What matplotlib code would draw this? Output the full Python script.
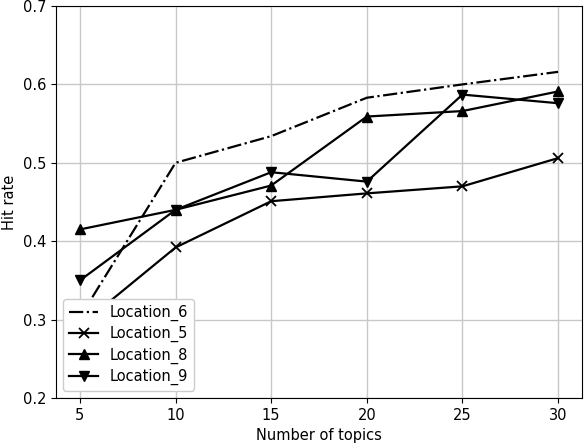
import matplotlib
matplotlib.use('Agg')
import matplotlib.pyplot as plt

# number of topics on the x axis
topics = [5, 10, 15, 20, 25, 30]

# hit rate for each location
location_6 = [0.303, 0.500, 0.534, 0.583, 0.600, 0.616]
location_5 = [0.292, 0.392, 0.451, 0.461, 0.470, 0.506]
location_8 = [0.415, 0.440, 0.471, 0.559, 0.566, 0.591]
location_9 = [0.350, 0.440, 0.488, 0.476, 0.587, 0.576]

plt.rcParams['font.size'] = 10.5

fig = plt.figure(figsize=(5.84, 4.44), dpi=100)
ax = fig.add_axes([56 / 584, 1 - 398 / 444, 526 / 584, 392 / 444])

ax.plot(topics, location_6, 'k-.', lw=1.6, label='Location_6')
ax.plot(topics, location_5, 'k-', lw=1.6, marker='x', ms=7, mew=1.3, label='Location_5')
ax.plot(topics, location_8, 'k-', lw=1.6, marker='^', ms=7, label='Location_8')
ax.plot(topics, location_9, 'k-', lw=1.6, marker='v', ms=7, label='Location_9')

ax.set_ylim(0.2, 0.7)
ax.set_xticks(topics)
ax.set_xlabel('Number of topics')
ax.set_ylabel('Hit rate')
ax.grid(True, color='#c8c8c8', lw=1)
ax.set_axisbelow(True)
ax.legend(loc='lower left', framealpha=1, labelspacing=0.35)

fig.savefig('out.png', dpi=100)
